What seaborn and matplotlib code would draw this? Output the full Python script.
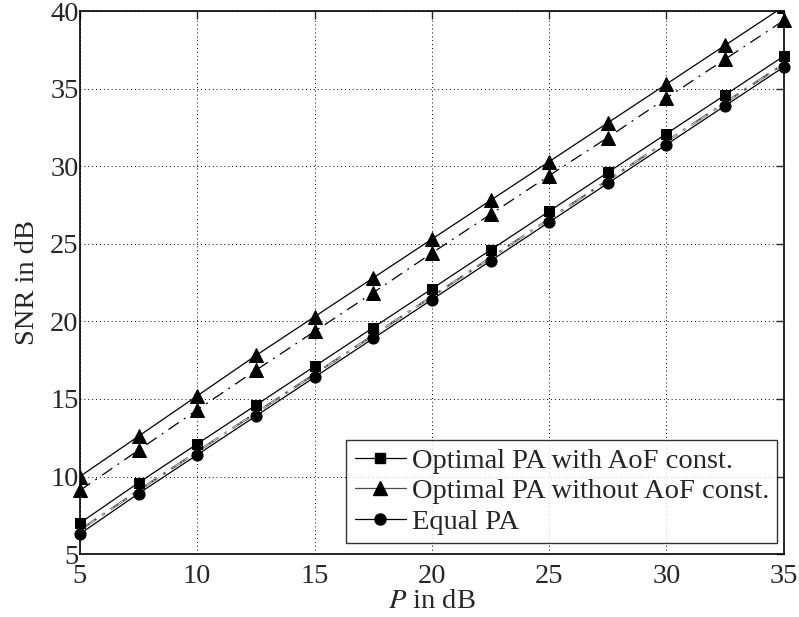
import numpy as np
import pandas as pd
import matplotlib
matplotlib.use("Agg")
import matplotlib.pyplot as plt
import seaborn as sns
from matplotlib.lines import Line2D

# power in dB
p_db = [5, 7.5, 10, 12.5, 15, 17.5, 20, 22.5, 25, 27.5, 30, 32.5, 35]

# SNR in dB
snr_opt_aof = [7.0, 9.6, 12.1, 14.6, 17.1, 19.6, 22.1, 24.6, 27.1, 29.6, 32.1, 34.6, 37.1]
snr_opt_noaof = [10.0, 12.6, 15.2, 17.8, 20.3, 22.8, 25.3, 27.8, 30.3, 32.8, 35.3, 37.8, 40.3]
snr_equal = [6.3, 8.9, 11.4, 13.9, 16.4, 18.9, 21.4, 23.9, 26.4, 28.9, 31.4, 33.9, 36.4]
# dash-dot companions
snr_opt_noaof_dd = [9.1, 11.7, 14.3, 16.85, 19.35, 21.85, 24.4, 26.9, 29.4, 31.85, 34.4, 36.9, 39.4]
snr_equal_dd = [6.55, 9.1, 11.6, 14.1, 16.6, 19.1, 21.6, 24.1, 26.6, 29.1, 31.6, 34.1, 36.6]

labels = ["Optimal PA with AoF const.", "Optimal PA without AoF const.", "Equal PA"]

sns.set_style("white")
plt.rcParams["font.family"] = ["Liberation Serif", "DejaVu Serif"]
plt.rcParams["mathtext.fontset"] = "stix"

fs = 20.5

fig, ax = plt.subplots(figsize=(7.99, 6.17), dpi=100)

df = pd.DataFrame({"P": p_db, "aof": snr_opt_aof, "noaof": snr_opt_noaof,
                   "eq": snr_equal, "noaof_dd": snr_opt_noaof_dd, "eq_dd": snr_equal_dd})

lw = 0.9
# dash-dot curves
sns.lineplot(data=df, x="P", y="eq_dd", ax=ax, color="0.35", lw=1.6, zorder=2)
sns.lineplot(data=df, x="P", y="eq_dd", ax=ax, color="white", lw=0.5, zorder=2)
ax.lines[-2].set_dashes([9, 3, 1.5, 3])
ax.lines[-1].set_dashes([9, 3, 1.5, 3])
sns.lineplot(data=df, x="P", y="noaof_dd", ax=ax, color="black", lw=lw, marker="^",
             markersize=10, markeredgecolor="black", zorder=3)
ax.lines[-1].set_dashes([10, 5, 1.5, 5])

# solid curves
sns.lineplot(data=df, x="P", y="aof", ax=ax, color="black", lw=lw, marker="s",
             markersize=7, markeredgecolor="black", zorder=3)
sns.lineplot(data=df, x="P", y="noaof", ax=ax, color="black", lw=lw, marker="^",
             markersize=10, markeredgecolor="black", zorder=3)
sns.lineplot(data=df, x="P", y="eq", ax=ax, color="black", lw=lw, marker="o",
             markersize=8, markeredgecolor="black", zorder=3)

ax.set_xlim(5, 35)
ax.set_ylim(5, 40)
for ln in ax.lines:
    y = ln.get_ydata()
    ln.set_clip_on(np.max(y) > 40)

ax.set_xticks(range(5, 36, 5))
ax.set_yticks(range(5, 41, 5))
ax.tick_params(direction="in", top=True, right=True, labelsize=fs, length=6, width=1)
ax.tick_params(axis="x", pad=7)
ax.tick_params(axis="y", pad=1)
ax.grid(True, color="black", linestyle=(0, (1, 3)), linewidth=0.7)
for s in ax.spines.values():
    s.set_linewidth(1.2)
    s.set_color("black")

ax.set_xlabel("$\\mathit{P}$ in dB", fontsize=fs, labelpad=0.5)
ax.set_ylabel("SNR in dB", fontsize=fs, labelpad=7)

handles = [Line2D([], [], color="black", lw=lw, marker="s", markersize=7),
           Line2D([], [], color="0.3", lw=lw, marker="^", markersize=10, markeredgecolor="black", markerfacecolor="black"),
           Line2D([], [], color="black", lw=lw, marker="o", markersize=8)]
leg = ax.legend(handles, labels, loc="lower right", bbox_to_anchor=(0.991, 0.02),
                fontsize=fs, frameon=True, fancybox=False, edgecolor="black",
                borderpad=0.3, labelspacing=0.15, handlelength=1.8, handletextpad=0.2,
                borderaxespad=0)
leg.get_frame().set_linewidth(1.0)

fig.subplots_adjust(left=0.1, right=0.981, top=0.982, bottom=0.102)
fig.savefig("out.png", dpi=100)
